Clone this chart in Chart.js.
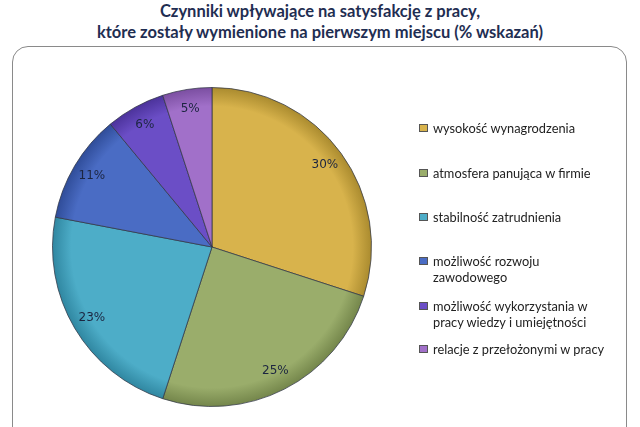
<!DOCTYPE html>
<html>
<head>
<meta charset="utf-8">
<script src="https://cdn.jsdelivr.net/npm/chart.js@4"></script>
<style>
  html, body { margin: 0; padding: 0; background: #fff; }
  body { width: 640px; height: 427px; position: relative; overflow: hidden; font-family: Lato, "Open Sans", sans-serif; }
  .title { position: absolute; left: 0; width: 640px; top: 1px; text-align: center; font-weight: bold; font-size: 16.5px; line-height: 21px; color: #1f2e52; }
  .frame { position: absolute; left: 12px; top: 46px; width: 615px; height: 420px; border: 1px solid #8a8a8a; border-radius: 16px; box-sizing: border-box; }
  #chart { position: absolute; left: 0; top: 0; width: 640px; height: 427px; }
  .legend-item { position: absolute; left: 419px; width: 188px; font-size: 12.8px; line-height: 16px; color: #222; padding-left: 14px; box-sizing: border-box; }
  .legend-item .box { position: absolute; left: 0; top: 4px; width: 9px; height: 8px; border: 1px solid #555; box-sizing: border-box; }
</style>
</head>
<body>
<div class="title">Czynniki wpływające na satysfakcję z pracy,<br>które zostały wymienione na pierwszym miejscu (% wskazań)</div>
<div class="frame"></div>
<canvas id="chart" width="640" height="427"></canvas>
<div id="legend"></div>
<script>
const categories = [
  'wysokość wynagrodzenia',
  'atmosfera panująca w firmie',
  'stabilność zatrudnienia',
  'możliwość rozwoju zawodowego',
  'możliwość wykorzystania w pracy wiedzy i umiejętności',
  'relacje z przełożonymi w pracy'
]
const values = [30, 25, 23, 11, 6, 5]
const colors = ['#d8b34c', '#9aad6b', '#4dadc8', '#4a6cc4', '#6b4ec6', '#a170c9']
const edgeColors = ['#a98a2e', '#73854a', '#2f86a0', '#2f4c98', '#4b329a', '#7a4ea0']

// ==================================== legend (html, like the original layout)
const legendTops = [120, 165, 209, 253, 298, 341]
const legend = document.querySelector('#legend')
categories.forEach((c, i) => {
    const item = document.createElement('div')
    item.className = 'legend-item'
    item.style.top = legendTops[i] + 'px'
    item.innerHTML = `<span class="box" style="background:${colors[i]}"></span>${c}`
    legend.appendChild(item)
})

// ==================================== pie
const myCanvas = document.querySelector('#chart')

function sliceFill(context) {
    const chart = context.chart
    const area = chart.chartArea
    const i = context.dataIndex
    if (!area) return colors[i]
    const cx = (area.left + area.right) / 2
    const cy = (area.top + area.bottom) / 2
    const r = Math.min(area.right - area.left, area.bottom - area.top) / 2
    const g = chart.ctx.createRadialGradient(cx, cy, 0, cx, cy, r)
    g.addColorStop(0, colors[i])
    g.addColorStop(0.88, colors[i])
    g.addColorStop(1, edgeColors[i])
    return g
}

const percentLabels = {
    id: 'percentLabels',
    afterDatasetsDraw(chart) {
        const ctx = chart.ctx
        const meta = chart.getDatasetMeta(0)
        ctx.save()
        ctx.font = '12px "DejaVu Sans", sans-serif'
        ctx.fillStyle = '#1c2540'
        ctx.textAlign = 'center'
        ctx.textBaseline = 'middle'
        meta.data.forEach((arc, i) => {
            const p = arc.getProps(['x', 'y', 'startAngle', 'endAngle', 'outerRadius'], true)
            const mid = (p.startAngle + p.endAngle) / 2
            const r = p.outerRadius * 0.875
            ctx.fillText(values[i] + '%', p.x + Math.cos(mid) * r, p.y + Math.sin(mid) * r)
        })
        ctx.restore()
    }
}

const myChart = new Chart(myCanvas, {
    type: 'pie',
    data: {
        labels: categories,
        datasets: [{
            data: values,
            backgroundColor: sliceFill,
            borderColor: 'rgba(50, 55, 70, 0.75)',
            borderWidth: 1
        }]
    },
    options: {
        responsive: false,
        maintainAspectRatio: false,
        animation: false,
        devicePixelRatio: 1,
        layout: { padding: { left: 52, right: 268, top: 87, bottom: 20 } },
        plugins: {
            legend: { display: false },
            tooltip: { enabled: false }
        }
    },
    plugins: [percentLabels]
})
</script>
</body>
</html>
